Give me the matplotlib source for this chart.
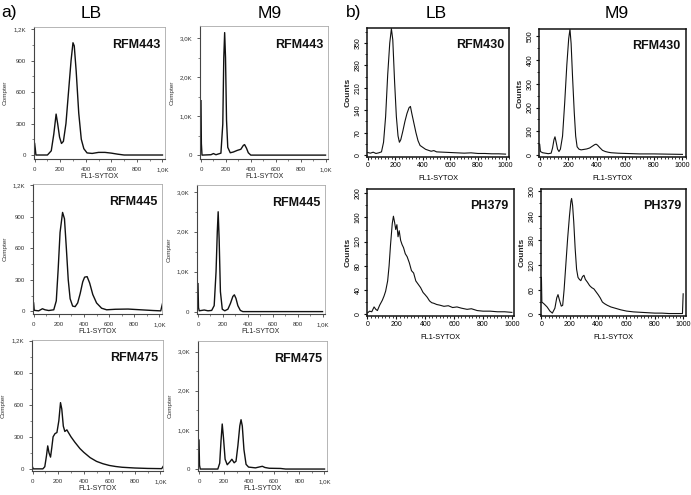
import matplotlib
matplotlib.use("Agg")
import matplotlib.pyplot as plt
from matplotlib.ticker import MultipleLocator

plt.rcParams['font.family'] = ['Liberation Sans', 'DejaVu Sans']

# ---------------- data ----------------
# a) LB RFM443
a_lb_443_x = [0, 5, 10, 100, 130, 150, 168, 180, 195, 210, 225, 245, 265, 285, 300, 310, 325, 345, 365, 385, 410, 450, 500, 550, 600, 650, 700, 1000]
a_lb_443_y = [110, 60, 0, 0, 40, 200, 390, 300, 170, 110, 130, 300, 600, 900, 1070, 1040, 800, 400, 150, 60, 20, 15, 25, 25, 18, 8, 0, 0]
# a) M9 RFM443
a_m9_443_x = [0, 3, 8, 80, 100, 120, 160, 175, 183, 190, 197, 205, 215, 235, 260, 290, 320, 340, 350, 365, 380, 400, 1000]
a_m9_443_y = [1400, 300, 0, 10, 40, 10, 50, 800, 2500, 3150, 2500, 900, 200, 60, 80, 120, 150, 250, 270, 180, 60, 0, 0]
# a) LB RFM445
a_lb_445_x = [0, 5, 40, 70, 90, 120, 160, 180, 195, 210, 230, 245, 260, 275, 290, 310, 330, 350, 370, 390, 405, 425, 445, 470, 500, 540, 580, 650, 750, 850, 950, 1010, 1025]
a_lb_445_y = [80, 10, 5, 25, 15, 8, 15, 100, 400, 750, 940, 880, 600, 300, 120, 50, 45, 80, 170, 280, 325, 330, 270, 160, 80, 30, 15, 20, 22, 15, 8, 5, 80]
# a) M9 RFM445
a_m9_445_x = [0, 4, 10, 50, 80, 110, 130, 145, 155, 162, 170, 180, 195, 215, 240, 260, 280, 292, 305, 320, 340, 360, 1000]
a_m9_445_y = [700, 100, 20, 40, 20, 30, 150, 1000, 2000, 2500, 1800, 500, 60, 20, 60, 200, 380, 420, 330, 150, 30, 0, 0]
# a) LB RFM475
a_lb_475_x = [0, 5, 80, 95, 108, 118, 128, 140, 150, 160, 175, 190, 205, 218, 228, 240, 252, 268, 280, 300, 330, 370, 400, 450, 500, 550, 600, 650, 700, 800, 900, 1010, 1025]
a_lb_475_y = [15, 0, 0, 20, 120, 215, 150, 110, 200, 300, 330, 340, 450, 620, 560, 400, 350, 365, 340, 300, 250, 190, 155, 105, 70, 48, 32, 22, 15, 8, 4, 2, 30]
# a) M9 RFM475
a_m9_475_x = [0, 4, 10, 150, 165, 175, 185, 195, 208, 225, 245, 262, 280, 295, 310, 325, 335, 345, 358, 375, 395, 450, 490, 505, 525, 560, 650, 690, 1000]
a_m9_475_y = [740, 100, 0, 0, 150, 700, 1150, 800, 250, 110, 180, 250, 160, 200, 600, 1100, 1260, 1100, 500, 120, 50, 30, 60, 70, 40, 20, 15, 0, 0]

# b) LB RFM430
b_lb_430_x = [0, 20, 40, 60, 80, 100, 115, 130, 145, 160, 172, 182, 195, 208, 220, 230, 240, 255, 270, 285, 300, 310, 320, 335, 350, 365, 380, 400, 420, 440, 460, 480, 500, 550, 600, 650, 700, 750, 800, 850, 900, 950, 1000]
b_lb_430_y = [8, 6, 9, 5, 7, 10, 40, 120, 250, 350, 395, 360, 230, 120, 60, 40, 48, 75, 105, 130, 148, 152, 130, 100, 70, 45, 30, 24, 18, 15, 12, 14, 10, 9, 8, 7, 6, 7, 5, 5, 4, 4, 3]
# b) M9 RFM430
b_m9_430_x = [0, 5, 20, 40, 60, 80, 90, 100, 107, 115, 125, 135, 145, 160, 175, 190, 203, 212, 220, 230, 242, 252, 262, 275, 290, 310, 330, 350, 370, 385, 395, 405, 420, 440, 460, 480, 500, 550, 600, 650, 700, 800, 900, 1000]
b_m9_430_y = [45, 15, 10, 8, 6, 8, 30, 65, 77, 55, 25, 15, 25, 80, 220, 380, 490, 530, 470, 330, 180, 80, 35, 25, 22, 24, 26, 30, 38, 44, 46, 42, 32, 20, 15, 12, 10, 8, 7, 6, 5, 5, 4, 3]
# b) LB PH379
b_lb_379_x = [0, 15, 30, 46, 58, 69, 85, 103, 115, 126, 140, 150, 160, 172, 180, 188, 196, 204, 212, 220, 230, 240, 250, 262, 275, 290, 305, 320, 335, 350, 368, 385, 400, 414, 430, 445, 460, 480, 500, 530, 560, 590, 620, 650, 690, 720, 760, 800, 850, 900, 950, 1000]
b_lb_379_y = [2, 5, 4, 12, 8, 6, 15, 23, 30, 38, 55, 80, 115, 150, 162, 152, 140, 148, 128, 138, 122, 115, 110, 100, 95, 85, 72, 68, 55, 50, 44, 36, 32, 28, 22, 19, 18, 16, 15, 13, 14, 11, 12, 10, 8, 9, 6, 5, 5, 4, 4, 3]
# b) M9 PH379
b_m9_379_x = [0, 3, 20, 40, 60, 77, 95, 108, 117, 127, 140, 150, 160, 172, 185, 198, 208, 213, 220, 228, 238, 248, 258, 268, 278, 290, 300, 310, 325, 340, 355, 370, 385, 400, 415, 430, 445, 465, 490, 520, 560, 600, 650, 700, 750, 800, 850, 900, 950, 995, 1000]
b_m9_379_y = [90, 30, 25, 18, 8, 3, 15, 40, 48, 35, 20, 22, 60, 120, 185, 240, 275, 282, 265, 225, 160, 110, 90, 85, 82, 92, 95, 85, 78, 70, 65, 62, 55, 48, 40, 30, 26, 22, 18, 15, 11, 8, 6, 5, 4, 3, 3, 2, 2, 2, 50]

a_xticks = [0, 200, 400, 600, 800, 1000]
a_xticklabels = ["0", "200", "400", "600", "800", "1,0K"]
a_lb_yticks = [0, 300, 600, 900, 1200]
a_lb_yticklabels = ["0", "300", "600", "900", "1,2K"]
a_m9_yticks = [0, 1000, 2000, 3000]
a_m9_yticklabels = ["0", "1,0K", "2,0K", "3,0K"]
b_xticks = [0, 200, 400, 600, 800, 1000]
b_lb_430_yticks = [0, 70, 140, 210, 280, 350]
b_m9_430_yticks = [0, 100, 200, 300, 400, 500]
b_lb_379_yticks = [0, 40, 80, 120, 160, 200]
b_m9_379_yticks = [0, 60, 120, 180, 240, 300]

W, H = 691, 495
fig = plt.figure(figsize=(W / 100, H / 100), dpi=100)
fig.patch.set_facecolor('white')


def add_ax(left, top, right, bottom):
    return fig.add_axes([left / W, 1 - bottom / H, (right - left) / W, (bottom - top) / H])


def panel_a(rect, x, y, ylim, yticks, yticklabels, name, xlim=(-5, 1020), minor_y=None):
    ax = add_ax(*rect)
    ax.plot(x, y, color='#111111', lw=1.0)
    ax.set_xlim(*xlim)
    ax.set_ylim(*ylim)
    ax.set_xticks(a_xticks)
    ax.set_xticklabels(a_xticklabels)
    ax.set_yticks(yticks)
    ax.set_yticklabels(yticklabels)
    ax.xaxis.set_minor_locator(MultipleLocator(100))
    if minor_y:
        ax.yaxis.set_minor_locator(MultipleLocator(minor_y))
    for s in ('left', 'bottom'):
        ax.spines[s].set_color('#444444')
        ax.spines[s].set_linewidth(0.8)
    for s in ('top', 'right'):
        ax.spines[s].set_color('#aaaaaa')
        ax.spines[s].set_linewidth(0.6)
    ax.tick_params(axis='both', which='major', labelsize=4.4, length=2.2, width=0.6,
                   color='#444444', labelcolor='#333333', pad=3.5)
    ax.tick_params(axis='both', which='minor', length=1.2, width=0.5, color='#555555')
    ax.set_xlabel('FL1-SYTOX', fontsize=5, color='#222222', labelpad=0.5)
    ax.set_ylabel('Compter', fontsize=4.6, color='#333333')
    ax.yaxis.set_label_coords(-0.2, 0.5)
    ax.text(0.965, 0.86, name, transform=ax.transAxes, ha='right', va='center',
            fontsize=9, fontweight='bold', color='#111111')
    return ax


def panel_b(rect, x, y, xlim, ylim, yticks, name, minor_y):
    ax = add_ax(*rect)
    ax.plot(x, y, color='#111111', lw=0.8)
    ax.set_xlim(*xlim)
    ax.set_ylim(*ylim)
    ax.set_xticks(b_xticks)
    ax.set_yticks(yticks)
    ax.xaxis.set_minor_locator(MultipleLocator(25))
    ax.yaxis.set_minor_locator(MultipleLocator(minor_y))
    for s in ax.spines.values():
        s.set_color('#111111')
        s.set_linewidth(1.1)
    ax.tick_params(axis='both', which='major', labelsize=5.0, length=2.2, width=0.8,
                   color='#111111', pad=1.5)
    ax.tick_params(axis='both', which='minor', length=1.2, width=0.6, color='#111111')
    for lbl in ax.get_yticklabels():
        lbl.set_rotation(90)
        lbl.set_va('center')
    ax.set_xlabel('FL1-SYTOX', fontsize=5.3, labelpad=4)
    ax.set_ylabel('Counts', fontsize=6, fontweight='bold', color='#222222')
    ax.yaxis.set_label_coords(-0.105, 0.5)
    ax.text(0.965, 0.865, name, transform=ax.transAxes, ha='right', va='center',
            fontsize=9, fontweight='bold', color='#111111')
    return ax


# ---- a) panels ----
panel_a((34, 27, 165, 159), a_lb_443_x, a_lb_443_y, (-38, 1220), a_lb_yticks, a_lb_yticklabels, 'RFM443', minor_y=150)
panel_a((200, 26, 328, 159), a_m9_443_x, a_m9_443_y, (-100, 3320), a_m9_yticks, a_m9_yticklabels, 'RFM443', xlim=(-8, 1020), minor_y=500)
panel_a((33, 184, 162, 314), a_lb_445_x, a_lb_445_y, (-25, 1210), a_lb_yticks, a_lb_yticklabels, 'RFM445', minor_y=150)
panel_a((197, 185, 325, 314), a_m9_445_x, a_m9_445_y, (-60, 3170), a_m9_yticks, a_m9_yticklabels, 'RFM445', xlim=(-8, 1020), minor_y=500)
panel_a((32, 340, 163, 471), a_lb_475_x, a_lb_475_y, (-20, 1206), a_lb_yticks, a_lb_yticklabels, 'RFM475', minor_y=150)
panel_a((198, 341, 327, 471), a_m9_475_x, a_m9_475_y, (-50, 3270), a_m9_yticks, a_m9_yticklabels, 'RFM475', xlim=(-8, 1020), minor_y=500)

# ---- b) panels ----
panel_b((367, 28, 509, 157), b_lb_430_x, b_lb_430_y, (-5, 1025), (-6, 397), b_lb_430_yticks, 'RFM430', 35)
panel_b((539, 29, 686, 157), b_m9_430_x, b_m9_430_y, (-5, 1025), (-8, 531), b_m9_430_yticks, 'RFM430', 50)
panel_b((367, 189, 514, 316), b_lb_379_x, b_lb_379_y, (-3, 1015), (-3, 207), b_lb_379_yticks, 'PH379', 20)
panel_b((541, 189, 686, 316), b_m9_379_x, b_m9_379_y, (-3, 1020), (-4, 305), b_m9_379_yticks, 'PH379', 30)

# ---- headers ----
def ftext(px, py, s, **kw):
    fig.text(px / W, 1 - py / H, s, **kw)

ftext(1, 12, 'a)', fontsize=12.5, ha='left', va='center')
ftext(346, 12, 'b)', fontsize=12.5, ha='left', va='center')
ftext(91, 13, 'LB', fontsize=12.5, ha='center', va='center')
ftext(270, 13, 'M9', fontsize=12.5, ha='center', va='center')
ftext(436, 13, 'LB', fontsize=12.5, ha='center', va='center')
ftext(617, 13, 'M9', fontsize=12.5, ha='center', va='center')

fig.savefig('out.png', dpi=100)
